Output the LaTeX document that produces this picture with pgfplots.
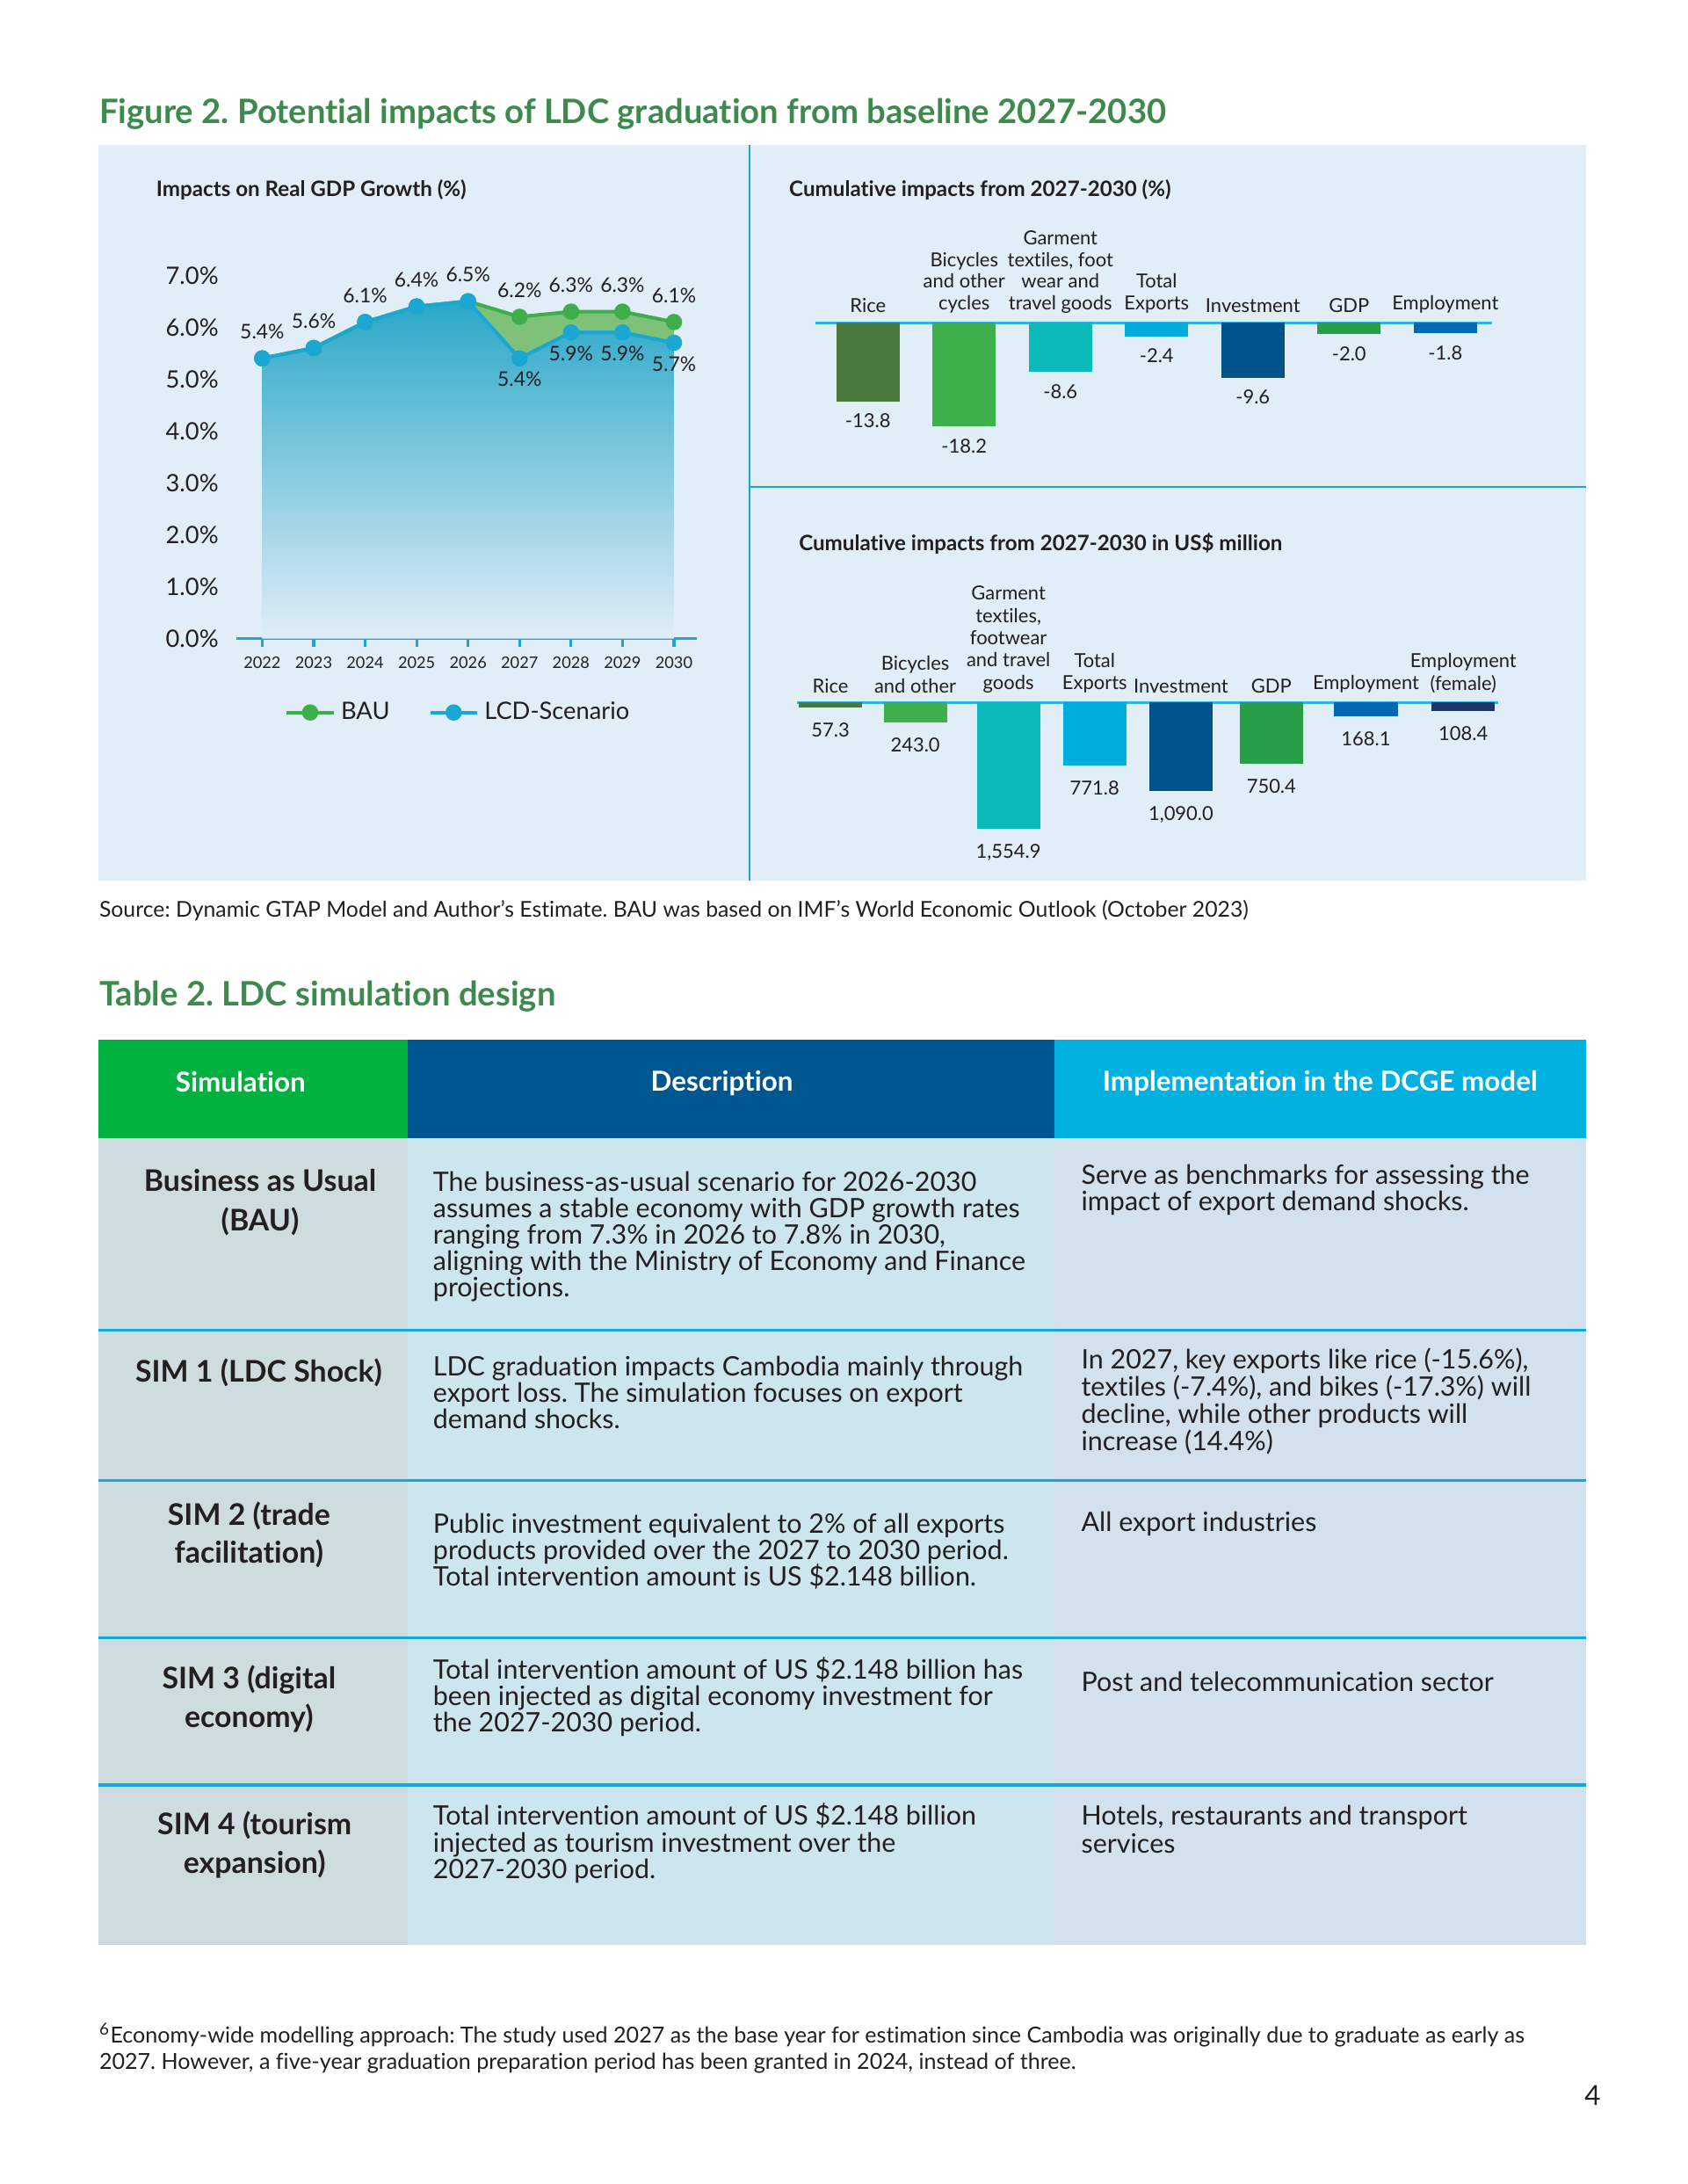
\documentclass[border=0pt]{standalone}
\usepackage{pgfplots}
\pgfplotsset{compat=1.18}
\usepackage{fontspec}
\setmainfont{Lato}[Ligatures=NoCommon]
\frenchspacing
\definecolor{titlegreen}{HTML}{3E8A4E}
\definecolor{panelbg}{HTML}{E1EDF7}
\definecolor{divblue}{HTML}{1BA6D2}
\definecolor{txt}{HTML}{231F20}
\definecolor{baugreen}{HTML}{3DAE4A}
\definecolor{baufill}{HTML}{7EC27A}
\definecolor{lcdblue}{HTML}{1AA7D3}
\definecolor{areatop}{HTML}{2AA8C8}
\definecolor{zeroline}{HTML}{2BB5E0}
\definecolor{cRice}{HTML}{4A7A3C}
\definecolor{cBike}{HTML}{3EAF4A}
\definecolor{cGarm}{HTML}{0CBABA}
\definecolor{cExp}{HTML}{00AEDB}
\definecolor{cInv}{HTML}{00528A}
\definecolor{cGDP}{HTML}{279E48}
\definecolor{cEmp}{HTML}{0068B3}
\definecolor{cFem}{HTML}{1F3366}
\definecolor{hGreen}{HTML}{00B140}
\definecolor{hBlue}{HTML}{00578F}
\definecolor{hCyan}{HTML}{00B1DF}
\definecolor{bA}{HTML}{CFDCDF}
\definecolor{bB}{HTML}{CDE6EE}
\definecolor{bC}{HTML}{D2E1EC}
\definecolor{rowline}{HTML}{12A9DA}
\newcommand{\fs}[2]{\fontsize{#1}{#2}\selectfont}
\newcommand{\bt}[3]{\node[anchor=base west, inner sep=0pt, font=\fs{9.7}{11}, text=txt] at (#1,#2) {#3};}
\newcommand{\ct}[3]{\node[anchor=base, inner sep=0pt, font=\bfseries\fs{10.8}{12}, text=txt] at (#1,#2) {#3};}
\begin{document}
\begin{tikzpicture}[x=0.50458pt,y=-0.50458pt]
\fill[white] (0,0) rectangle (1212.9,1569.8);
\useasboundingbox (0,0) rectangle (1212.9,1569.8);
% titles
\node[anchor=base west, inner sep=0pt, font=\bfseries\fs{12.2}{13}, text=titlegreen] at (71,89) {Figure 2. Potential impacts of LDC graduation from baseline 2027-2030};
\fill[panelbg] (71,104) rectangle (1140,633);
\draw[divblue, line width=0.6pt] (539,104) -- (539,633);
\draw[divblue, line width=0.6pt] (539,350) -- (1140,350);
\node[anchor=base west, inner sep=0pt, font=\bfseries\fs{7.7}{9}, text=txt] at (112,141) {Impacts on Real GDP Growth (\%)};
\node[anchor=base west, inner sep=0pt, font=\bfseries\fs{7.7}{9}, text=txt] at (567,141) {Cumulative impacts from 2027-2030 (\%)};
\node[anchor=base west, inner sep=0pt, font=\bfseries\fs{7.7}{9}, text=txt] at (574,396) {Cumulative impacts from 2027-2030 in US\$ million};

% left chart
\begin{axis}[at={(85.78pt,-231.60pt)}, anchor=south west, scale only axis,
 width=167.1pt, height=137.4pt, xmin=2021.5, xmax=2030.45, ymin=0, ymax=7.3,
 clip=false,
 axis x line*=bottom, axis y line*=left,
 x axis line style={draw=lcdblue, line width=1.1pt, -},
 y axis line style={draw=none},
 xtick={2022,2023,2024,2025,2026,2027,2028,2029,2030},
 xticklabels={2022,2023,2024,2025,2026,2027,2028,2029,2030},
 ytick={0,1,2,3,4,5,6,7},
 yticklabels={0.0\%,1.0\%,2.0\%,3.0\%,4.0\%,5.0\%,6.0\%,7.0\%},
 xtick style={draw=lcdblue, line width=1pt},
 ytick style={draw=none},
 tick align=outside, major tick length=3pt,
 xticklabel style={font=\fs{5.8}{7}, text=txt},
 yticklabel style={font=\fs{8.7}{10}, text=txt},
 legend style={at={(0.485,-0.195)}, anchor=center, draw=none, fill=none, font=\fs{8.7}{10}, text=txt, legend columns=2, /tikz/every even column/.append style={column sep=12pt}},
]
\addplot[draw=none, top color=areatop, bottom color=panelbg, forget plot] coordinates {(2022,5.4)(2023,5.6)(2024,6.1)(2025,6.4)(2026,6.5)(2027,5.4)(2028,5.9)(2029,5.9)(2030,5.7)} \closedcycle;
\addplot[draw=none, fill=baufill, forget plot] coordinates {(2026,6.5)(2027,6.2)(2028,6.3)(2029,6.3)(2030,6.1)(2030,5.7)(2029,5.9)(2028,5.9)(2027,5.4)(2026,6.5)};
\addplot[color=baugreen, line width=1.3pt, mark=*, mark size=2.3pt, mark options={fill=baugreen, draw=baugreen},
  nodes near coords, point meta=explicit symbolic,
  every node near coord/.append style={font=\fs{7.3}{8}, text=txt, anchor=south, yshift=3pt}]
 coordinates {(2022,5.4)[5.4\%] (2023,5.6)[5.6\%] (2024,6.1)[6.1\%] (2025,6.4)[6.4\%] (2026,6.5)[6.5\%] (2027,6.2)[6.2\%] (2028,6.3)[6.3\%] (2029,6.3)[6.3\%] (2030,6.1)[6.1\%]};
\addlegendentry{BAU}
\addplot[color=lcdblue, line width=1.3pt, mark=*, mark size=2.3pt, mark options={fill=lcdblue, draw=lcdblue},
  nodes near coords, point meta=explicit symbolic,
  every node near coord/.append style={font=\fs{7.3}{8}, text=txt, anchor=north, yshift=-1pt}]
 coordinates {(2022,5.4)[] (2023,5.6)[] (2024,6.1)[] (2025,6.4)[] (2026,6.5)[] (2027,5.4)[5.4\%] (2028,5.9)[5.9\%] (2029,5.9)[5.9\%] (2030,5.7)[5.7\%]};
\addlegendentry{LCD-Scenario}
\end{axis}

% top right chart
\begin{axis}[at={(295.68pt,-158.44pt)}, anchor=south west, scale only axis,
 width=245.7pt, height=41.4pt, xmin=-0.549, xmax=6.49, ymin=-20, ymax=0,
 clip=false, axis x line=top, axis y line=none,
 x axis line style={draw=zeroline, line width=1pt, -},
 xtick={0,1,2,3,4,5,6}, major tick length=0pt,
 xticklabels={Rice, {Bicycles\\and other\\cycles}, {Garment\\textiles, foot\\wear and\\travel goods}, {Total\\Exports}, Investment, GDP, Employment},
 xticklabel style={font=\fs{7}{7.8}, text=txt, align=center},
 ytick=\empty,
 ybar, bar width=22.96pt,
 nodes near coords, point meta=explicit symbolic,
 every node near coord/.append style={font=\fs{7}{8}, text=txt, anchor=north, yshift=-1pt},
]
\addplot[fill=cRice, draw=none, bar shift=0pt] coordinates {(0,-13.8)[-13.8]};
\addplot[fill=cBike, draw=none, bar shift=0pt] coordinates {(1,-18.2)[-18.2]};
\addplot[fill=cGarm, draw=none, bar shift=0pt] coordinates {(2,-8.6)[-8.6]};
\addplot[fill=cExp, draw=none, bar shift=0pt] coordinates {(3,-2.4)[-2.4]};
\addplot[fill=cInv, draw=none, bar shift=0pt] coordinates {(4,-9.6)[-9.6]};
\addplot[fill=cGDP, draw=none, bar shift=0pt] coordinates {(5,-2.0)[-2.0]};
\addplot[fill=cEmp, draw=none, bar shift=0pt] coordinates {(6,-1.8)[-1.8]};
\end{axis}

% bottom right chart
\begin{axis}[at={(289.12pt,-305.00pt)}, anchor=south west, scale only axis,
 width=254.3pt, height=50.18pt, xmin=573, xmax=1077, ymin=-1700, ymax=0,
 clip=false, axis x line=top, axis y line=none,
 x axis line style={draw=zeroline, line width=1pt, -},
 xtick={597,658,725,787,849,914,982,1052}, major tick length=0pt,
 xticklabels={Rice, {Bicycles\\and other}, {Garment\\textiles,\\footwear\\and travel\\goods}, {Total\\Exports}, Investment, GDP, Employment, {Employment\\(female)}},
 xticklabel style={font=\fs{7}{8.1}, text=txt, align=center},
 ytick=\empty,
 ybar, bar width=22.96pt,
 nodes near coords, point meta=explicit symbolic,
 every node near coord/.append style={font=\fs{7}{8}, text=txt, anchor=north, yshift=-2pt},
]
\addplot[fill=cRice, draw=none, bar shift=0pt] coordinates {(597,-57.3)[57.3]};
\addplot[fill=cBike, draw=none, bar shift=0pt] coordinates {(658,-243.0)[243.0]};
\addplot[fill=cGarm, draw=none, bar shift=0pt] coordinates {(725,-1554.9)[1{,}554.9]};
\addplot[fill=cExp, draw=none, bar shift=0pt] coordinates {(787,-771.8)[771.8]};
\addplot[fill=cInv, draw=none, bar shift=0pt] coordinates {(849,-1090.0)[1{,}090.0]};
\addplot[fill=cGDP, draw=none, bar shift=0pt] coordinates {(914,-750.4)[750.4]};
\addplot[fill=cEmp, draw=none, bar shift=0pt] coordinates {(982,-168.1)[168.1]};
\addplot[fill=cFem, draw=none, bar shift=0pt] coordinates {(1052,-108.4)[108.4]};
\end{axis}

% source
\node[anchor=base west, inner sep=0pt, font=\fs{7.9}{10}, text=txt] at (71,659) {Source: Dynamic GTAP Model and Author’s Estimate. BAU was based on IMF’s World Economic Outlook (October 2023)};
\node[anchor=base west, inner sep=0pt, font=\bfseries\fs{12.2}{13}, text=titlegreen] at (71,723) {Table 2. LDC simulation design};

% table
\fill[hGreen] (71,747) rectangle (293,818);
\fill[hBlue] (293,747) rectangle (758,818);
\fill[hCyan] (758,747) rectangle (1140,818);
\fill[bA] (71,818) rectangle (293,1398);
\fill[bB] (293,818) rectangle (758,1398);
\fill[bC] (758,818) rectangle (1140,1398);
\foreach \yy in {956,1064,1177,1283} {\draw[rowline, line width=1pt] (71,\yy) -- (1140,\yy);}
\node[anchor=base, inner sep=0pt, font=\bfseries\fs{10}{12}, text=white] at (173,785) {Simulation};
\node[anchor=base, inner sep=0pt, font=\bfseries\fs{10}{12}, text=white] at (519,784) {Description};
\node[anchor=base, inner sep=0pt, font=\bfseries\fs{10}{12}, text=white] at (949,784) {Implementation in the DCGE model};
% row 1
\ct{187}{856.5}{Business as Usual}
\ct{187}{884.5}{(BAU)}
\bt{311}{856}{The business-as-usual scenario for 2026-2030}
\bt{311}{875}{assumes a stable economy with GDP growth rates}
\bt{311}{894}{ranging from 7.3\% in 2026 to 7.8\% in 2030,}
\bt{311}{913}{aligning with the Ministry of Economy and Finance}
\bt{311}{932}{projections.}
\bt{777}{851}{Serve as benchmarks for assessing the}
\bt{777}{870}{impact of export demand shocks.}
% row 2
\ct{186}{993.5}{SIM 1 (LDC Shock)}
\bt{311}{989}{LDC graduation impacts Cambodia mainly through}
\bt{311}{1008}{export loss. The simulation focuses on export}
\bt{311}{1027}{demand shocks.}
\bt{777}{984}{In 2027, key exports like rice (-15.6\%),}
\bt{777}{1003.5}{textiles (-7.4\%), and bikes (-17.3\%) will}
\bt{777}{1023}{decline, while other products will}
\bt{777}{1042.5}{increase (14.4\%)}
% row 3
\ct{179}{1096.5}{SIM 2 (trade}
\ct{179}{1123.5}{facilitation)}
\bt{311}{1102}{Public investment equivalent to 2\% of all exports}
\bt{311}{1121}{products provided over the 2027 to 2030 period.}
\bt{311}{1140}{Total intervention amount is US \$2.148 billion.}
\bt{777}{1101}{All export industries}
% row 4
\ct{179}{1213.5}{SIM 3 (digital}
\ct{179}{1241.5}{economy)}
\bt{311}{1207}{Total intervention amount of US \$2.148 billion has}
\bt{311}{1226}{been injected as digital economy investment for}
\bt{311}{1245}{the 2027-2030 period.}
\bt{777}{1216}{Post and telecommunication sector}
% row 5
\ct{183}{1318.5}{SIM 4 (tourism}
\ct{183}{1346.5}{expansion)}
\bt{311}{1312}{Total intervention amount of US \$2.148 billion}
\bt{311}{1331}{injected as tourism investment over the}
\bt{311}{1350}{2027-2030 period.}
\bt{777}{1312}{Hotels, restaurants and transport}
\bt{777}{1332}{services}
% footnote
\node[anchor=base west, inner sep=0pt, font=\fs{8}{9}, text=txt] at (71,1468.5) {\textsuperscript{6}Economy-wide modelling approach: The study used 2027 as the base year for estimation since Cambodia was originally due to graduate as early as};
\node[anchor=base west, inner sep=0pt, font=\fs{8}{9}, text=txt] at (71,1487.5) {2027. However, a five-year graduation preparation period has been granted in 2024, instead of three.};
\node[anchor=base, inner sep=0pt, font=\fs{10}{12}, text=txt] at (1145,1513) {4};
\end{tikzpicture}
\end{document}
